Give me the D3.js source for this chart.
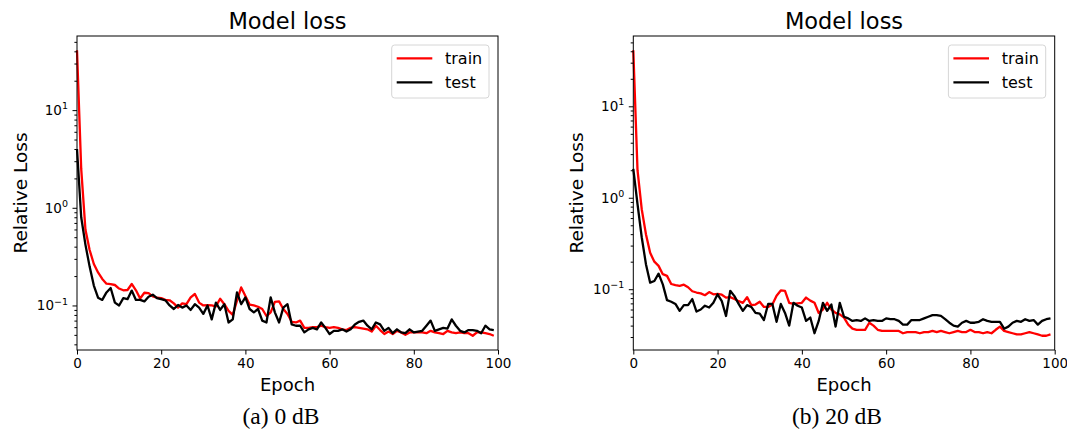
<!DOCTYPE html>
<html>
<head>
<meta charset="utf-8">
<script src="https://cdn.jsdelivr.net/npm/d3@7"></script>
<style>
  body { margin: 0; background: #fff; }
  svg { display: block; }
  .tick text { font-family: "DejaVu Sans", sans-serif; font-size: 13.5px; fill: #000; }
  .domain, .tick line { stroke: #000; }
</style>
</head>
<body>
<div id="chart-area"></div>
<script>
// epochs 0..99
var epochs = d3.range(0, 100);
var xTicks = [0, 20, 40, 60, 80, 100];
var yTicks = [0.1, 1, 10];
var seriesNames = ['train', 'test'];
var seriesColors = ['#ff0000', '#000000'];

// (a) 0 dB
var trainA = [41, 2.5, 0.6, 0.37, 0.266, 0.218, 0.187, 0.167, 0.165, 0.162,
  0.149, 0.143, 0.144, 0.166, 0.143, 0.118, 0.135, 0.134, 0.124, 0.12,
  0.119, 0.114, 0.113, 0.105, 0.095, 0.105, 0.103, 0.121, 0.131, 0.107,
  0.1, 0.101, 0.1, 0.098, 0.117, 0.103, 0.088, 0.08, 0.112, 0.153,
  0.125, 0.102, 0.1, 0.097, 0.092, 0.078, 0.085, 0.109, 0.11, 0.092,
  0.082, 0.068, 0.067, 0.07, 0.059, 0.059, 0.06, 0.06, 0.062, 0.06,
  0.059, 0.06, 0.059, 0.057, 0.056, 0.059, 0.06, 0.059, 0.058, 0.057,
  0.054, 0.062, 0.056, 0.051, 0.054, 0.051, 0.055, 0.053, 0.05, 0.053,
  0.053, 0.053, 0.053, 0.052, 0.055, 0.053, 0.052, 0.051, 0.055, 0.053,
  0.052, 0.053, 0.052, 0.052, 0.049, 0.053, 0.053, 0.052, 0.051, 0.049];
var testA = [4, 0.8, 0.42, 0.25, 0.16, 0.12, 0.114, 0.136, 0.151, 0.107,
  0.1, 0.119, 0.116, 0.142, 0.114, 0.114, 0.11, 0.123, 0.129, 0.119,
  0.116, 0.113, 0.1, 0.092, 0.101, 0.095, 0.1, 0.09, 0.103, 0.095,
  0.082, 0.1, 0.072, 0.107, 0.09, 0.103, 0.067, 0.072, 0.136, 0.103,
  0.121, 0.092, 0.085, 0.092, 0.07, 0.067, 0.121, 0.085, 0.067, 0.095,
  0.103, 0.064, 0.062, 0.062, 0.053, 0.057, 0.059, 0.057, 0.067, 0.059,
  0.051, 0.055, 0.055, 0.057, 0.054, 0.057, 0.064, 0.068, 0.07, 0.062,
  0.057, 0.067, 0.064, 0.055, 0.059, 0.052, 0.057, 0.053, 0.052, 0.057,
  0.053, 0.054, 0.055, 0.062, 0.07, 0.055, 0.057, 0.059, 0.058, 0.072,
  0.062, 0.055, 0.053, 0.056, 0.056, 0.055, 0.052, 0.062, 0.057, 0.056];

// (b) 20 dB
var trainB = [41, 2.0, 0.75, 0.4, 0.25, 0.2, 0.18, 0.146, 0.14, 0.114,
  0.111, 0.109, 0.112, 0.105, 0.095, 0.092, 0.09, 0.086, 0.093, 0.088,
  0.089, 0.087, 0.081, 0.082, 0.078, 0.074, 0.071, 0.082, 0.067, 0.068,
  0.073, 0.064, 0.064, 0.068, 0.085, 0.097, 0.096, 0.071, 0.069, 0.07,
  0.071, 0.081, 0.075, 0.071, 0.055, 0.06, 0.071, 0.06, 0.055, 0.053,
  0.049, 0.041, 0.037, 0.036, 0.036, 0.036, 0.043, 0.04, 0.036, 0.035,
  0.035, 0.035, 0.035, 0.035, 0.033, 0.034, 0.034, 0.034, 0.033, 0.034,
  0.034, 0.035, 0.034, 0.035, 0.034, 0.033, 0.034, 0.035, 0.034, 0.034,
  0.036, 0.034, 0.034, 0.033, 0.034, 0.033, 0.036, 0.039, 0.035, 0.034,
  0.033, 0.032, 0.032, 0.033, 0.034, 0.033, 0.032, 0.031, 0.031, 0.032];
var testB = [2.07, 0.85, 0.37, 0.188, 0.118, 0.123, 0.148, 0.113, 0.076, 0.073,
  0.069, 0.058, 0.067, 0.067, 0.078, 0.057, 0.06, 0.066, 0.063, 0.071,
  0.088, 0.074, 0.051, 0.096, 0.084, 0.069, 0.058, 0.067, 0.064, 0.055,
  0.054, 0.046, 0.069, 0.069, 0.044, 0.069, 0.055, 0.04, 0.071, 0.066,
  0.063, 0.045, 0.049, 0.033, 0.045, 0.071, 0.058, 0.068, 0.039, 0.071,
  0.05, 0.048, 0.045, 0.046, 0.045, 0.048, 0.045, 0.046, 0.045, 0.045,
  0.048, 0.047, 0.047, 0.045, 0.041, 0.041, 0.046, 0.046, 0.046, 0.048,
  0.05, 0.052, 0.052, 0.051, 0.047, 0.043, 0.04, 0.039, 0.043, 0.045,
  0.043, 0.043, 0.044, 0.047, 0.045, 0.044, 0.044, 0.044, 0.037, 0.039,
  0.043, 0.045, 0.044, 0.047, 0.045, 0.046, 0.041, 0.045, 0.047, 0.048];

var panels = [
  { left: 77, right: 498, series: [trainA, testA], caption: '(a) 0 dB', captionX: 281 },
  { left: 633.3, right: 1054.7, series: [trainB, testB], caption: '(b) 20 dB', captionX: 837 }
];

var plotTop = 36, plotBottom = 350;

var svg = d3.select('#chart-area').append('svg')
  .attr('width', 1067)
  .attr('height', 430);

panels.forEach(function (p) {
  var g = svg.append('g');

  // log limits with matplotlib style 5% margin
  var all = p.series[0].concat(p.series[1]);
  var lo = Math.log10(d3.min(all)), hi = Math.log10(d3.max(all));
  var pad = (hi - lo) * 0.05;

  var x = d3.scaleLinear().domain([0, 100]).range([p.left, p.right]);
  var y = d3.scaleLog().domain([Math.pow(10, lo - pad), Math.pow(10, hi + pad)]).range([plotBottom, plotTop]);

  var line = d3.line()
    .x(function (d, i) { return x(epochs[i]); })
    .y(function (d) { return y(d); });

  p.series.forEach(function (s, i) {
    g.append('path')
      .datum(s)
      .attr('fill', 'none')
      .attr('stroke', seriesColors[i])
      .attr('stroke-width', 2.3)
      .attr('stroke-linejoin', 'round')
      .attr('d', line);
  });

  // frame
  g.append('rect')
    .attr('x', p.left).attr('y', plotTop)
    .attr('width', p.right - p.left).attr('height', plotBottom - plotTop)
    .attr('fill', 'none').attr('stroke', '#000').attr('stroke-width', 1);

  // x axis
  var xAxis = g.append('g')
    .attr('transform', `translate(0, ${plotBottom})`)
    .call(d3.axisBottom(x).tickValues(xTicks).tickSize(4.5).tickPadding(4).tickFormat(d3.format('d')));
  xAxis.select('.domain').remove();

  // y axis minor ticks
  var minor = y.ticks().filter(function (v) {
    return Math.abs(Math.log10(v) - Math.round(Math.log10(v))) > 1e-6;
  });
  var yMinor = g.append('g')
    .attr('transform', `translate(${p.left}, 0)`)
    .call(d3.axisLeft(y).tickValues(minor).tickSize(2.6).tickFormat(''));
  yMinor.select('.domain').remove();

  // y axis major ticks with superscript labels
  var yAxis = g.append('g')
    .attr('transform', `translate(${p.left}, 0)`)
    .call(d3.axisLeft(y).tickValues(yTicks).tickSize(4.5).tickPadding(4.5).tickFormat(''));
  yAxis.select('.domain').remove();
  yAxis.selectAll('.tick text').each(function (d) {
    var t = d3.select(this).attr('dy', '0.32em');
    var e = Math.round(Math.log10(d));
    t.append('tspan').text('10');
    t.append('tspan')
      .attr('font-size', '9.5px')
      .attr('dy', '-0.6em')
      .text(e < 0 ? '\u2212' + (-e) : e);
  });

  // title
  g.append('text')
    .attr('x', (p.left + p.right) / 2)
    .attr('y', 29)
    .attr('text-anchor', 'middle')
    .attr('font-family', 'DejaVu Sans, sans-serif')
    .attr('font-size', '22.5px')
    .text('Model loss');

  // axis labels
  g.append('text')
    .attr('x', (p.left + p.right) / 2)
    .attr('y', 391)
    .attr('text-anchor', 'middle')
    .attr('font-family', 'DejaVu Sans, sans-serif')
    .attr('font-size', '18px')
    .text('Epoch');

  g.append('text')
    .attr('transform', `translate(${p.left - 50}, ${(plotTop + plotBottom) / 2}) rotate(-90)`)
    .attr('text-anchor', 'middle')
    .attr('font-family', 'DejaVu Sans, sans-serif')
    .attr('font-size', '18.5px')
    .text('Relative Loss');

  // legend
  var lx = p.right - 106.3;
  var legend = g.append('g').attr('transform', `translate(${lx}, 45)`);
  legend.append('rect')
    .attr('width', 97.3).attr('height', 53)
    .attr('rx', 3).attr('ry', 3)
    .attr('fill', '#fff').attr('fill-opacity', 0.8)
    .attr('stroke', '#d6d6d6').attr('stroke-width', 1);

  seriesNames.forEach(function (name, i) {
    var row = legend.append('g').attr('transform', `translate(0, ${13.3 + i * 24})`);
    row.append('line')
      .attr('x1', 5).attr('x2', 40.6)
      .attr('stroke', seriesColors[i]).attr('stroke-width', 2.3);
    row.append('text')
      .attr('x', 53.3).attr('y', 5.5)
      .attr('font-family', 'DejaVu Sans, sans-serif')
      .attr('font-size', '16px')
      .text(name);
  });

  // caption
  g.append('text')
    .attr('x', p.captionX)
    .attr('y', 424)
    .attr('text-anchor', 'middle')
    .attr('font-family', 'Liberation Serif, serif')
    .attr('font-size', '23.5px')
    .text(p.caption);
});
</script>
</body>
</html>
